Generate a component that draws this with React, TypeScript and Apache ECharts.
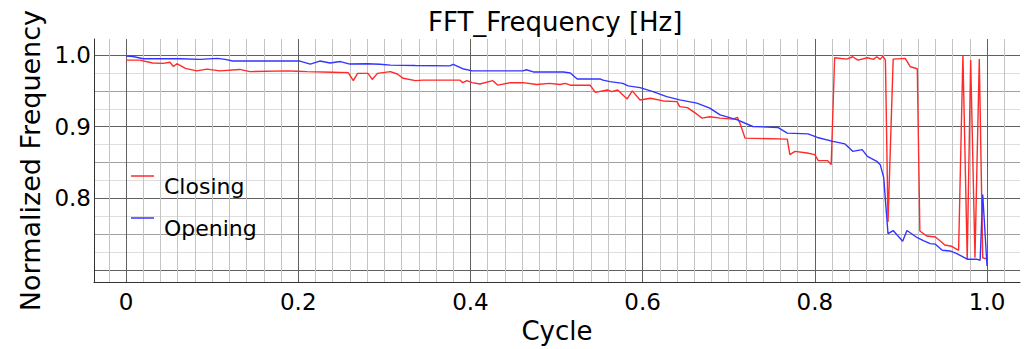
import React, { useEffect, useRef } from "react";
import * as echarts from "echarts";

const closingX = [
  0.0, 0.016, 0.031, 0.043, 0.051, 0.055, 0.059, 0.069, 0.082, 0.094, 0.109, 0.132, 0.144, 0.187, 0.199,
  0.21, 0.24, 0.258, 0.264, 0.269, 0.281, 0.286, 0.292, 0.307, 0.315, 0.322, 0.336, 0.345, 0.388, 0.391,
  0.396, 0.402, 0.411, 0.426, 0.432, 0.446, 0.461, 0.477, 0.492, 0.504, 0.51, 0.516, 0.539, 0.545, 0.559,
  0.564, 0.571, 0.582, 0.588, 0.597, 0.609, 0.624, 0.64, 0.643, 0.652, 0.663, 0.669, 0.678, 0.69, 0.705,
  0.71, 0.713, 0.719, 0.768, 0.771, 0.777, 0.791, 0.8, 0.804, 0.815, 0.819, 0.823, 0.837, 0.844, 0.85,
  0.861, 0.868, 0.872, 0.876, 0.879, 0.882, 0.885, 0.891, 0.905, 0.911, 0.919, 0.922, 0.93, 0.94, 0.945,
  0.951, 0.959, 0.967, 0.972, 0.977, 0.981, 0.986, 0.991, 0.995, 1.0,
];
const closingY = [
  0.993, 0.993, 0.989, 0.9885, 0.99, 0.984, 0.988, 0.9815, 0.978, 0.9805, 0.978, 0.98, 0.977, 0.978, 0.9775,
  0.977, 0.976, 0.9755, 0.9643, 0.9745, 0.9745, 0.966, 0.9745, 0.977, 0.9736, 0.9676, 0.9643, 0.965, 0.965, 0.9615,
  0.9643, 0.9615, 0.9597, 0.9643, 0.958, 0.9615, 0.9615, 0.959, 0.9606, 0.959, 0.9606, 0.958, 0.958, 0.948, 0.9513,
  0.949, 0.9513, 0.9388, 0.95, 0.9374, 0.9397, 0.936, 0.935, 0.928, 0.9267, 0.9175, 0.912, 0.914, 0.912, 0.9106,
  0.913, 0.905, 0.884, 0.8827, 0.861, 0.8656, 0.8633, 0.861, 0.8526, 0.8526, 0.847, 0.9963, 0.9944, 0.9977, 0.993,
  0.9963, 0.994, 0.9977, 0.994, 0.9986, 0.993, 0.767, 0.9944, 0.9954, 0.9837, 0.981, 0.7543, 0.7473, 0.746, 0.741,
  0.7348, 0.733, 0.7274, 1.0, 0.715, 0.993, 0.717, 0.9944, 0.717, 0.715,
];

const openingX = [
  0.0, 0.008, 0.02, 0.063, 0.086, 0.106, 0.115, 0.124, 0.202, 0.214, 0.225, 0.237, 0.249, 0.26, 0.28,
  0.295, 0.307, 0.336, 0.376, 0.38, 0.391, 0.402, 0.461, 0.465, 0.473, 0.508, 0.516, 0.524, 0.551, 0.554,
  0.562, 0.577, 0.583, 0.597, 0.612, 0.628, 0.643, 0.663, 0.678, 0.69, 0.71, 0.728, 0.757, 0.768, 0.792,
  0.803, 0.821, 0.835, 0.844, 0.855, 0.861, 0.872, 0.876, 0.88, 0.885, 0.891, 0.902, 0.907, 0.919, 0.926,
  0.934, 0.94, 0.948, 0.957, 0.965, 0.977, 0.988, 0.992, 0.995, 1.0,
];
const openingY = [
  0.9986, 0.998, 0.995, 0.995, 0.994, 0.9955, 0.994, 0.9917, 0.9917, 0.9875, 0.9917, 0.989, 0.991, 0.9875, 0.988,
  0.9873, 0.986, 0.9855, 0.985, 0.987, 0.981, 0.978, 0.978, 0.9795, 0.9765, 0.9765, 0.975, 0.9666, 0.9666, 0.965,
  0.963, 0.9606, 0.957, 0.9546, 0.949, 0.942, 0.9374, 0.933, 0.926, 0.9166, 0.9096, 0.9003, 0.899, 0.891, 0.89,
  0.885, 0.8795, 0.876, 0.8656, 0.868, 0.8586, 0.8516, 0.847, 0.829, 0.7506, 0.755, 0.74, 0.755, 0.745, 0.741,
  0.7367, 0.736, 0.7274, 0.7265, 0.7228, 0.715, 0.715, 0.7135, 0.8053, 0.7056,
];

const xTickLabels = [0, 0.2, 0.4, 0.6, 0.8, 1.0];
const yTickLabels = [0.8, 0.9, 1.0];

const X_MIN = -0.0372;
const X_MAX = 1.0383;
const Y_MIN = 0.683;
const Y_MAX = 1.0225;

const RED = "#ff2a2a";
const BLUE = "#3434ff";

export default function App() {
  const ref = useRef<HTMLDivElement>(null);
  useEffect(() => {
    const chart = echarts.init(ref.current!, null, { renderer: "svg" });
    const font = "DejaVu Sans";
    const hidden = { show: false };
    chart.setOption({
      animation: false,
      backgroundColor: "#ffffff",
      title: {
        text: "FFT_Frequency [Hz]",
        left: 428,
        top: 9,
        padding: 0,
        textStyle: { fontFamily: font, fontSize: 26, fontWeight: "normal", color: "#000" },
      },
      legend: {
        orient: "vertical",
        left: 131,
        top: 155,
        icon: "rect",
        itemWidth: 23,
        itemHeight: 1.5,
        itemGap: 0,
        padding: 0,
        formatter: (name: string) => `{s| }\n{t|${name}}`,
        textStyle: {
          fontFamily: font,
          fontSize: 22,
          color: "#000",
          rich: {
            s: { fontFamily: font, fontSize: 10, height: 20, lineHeight: 20 },
            t: { fontFamily: font, fontSize: 22, color: "#000", height: 22, lineHeight: 22, padding: [0, 0, 0, 5] },
          },
        },
        data: [
          { name: "Closing", itemStyle: { color: RED } },
          { name: "Opening", itemStyle: { color: BLUE } },
        ],
      },
      grid: { left: 94, right: 5, top: 39, bottom: 66, containLabel: false },
      xAxis: [
        {
          type: "value",
          min: X_MIN,
          max: X_MAX,
          minInterval: 0.2,
          maxInterval: 0.2,
          name: "Cycle",
          nameLocation: "middle",
          nameGap: 29,
          nameTextStyle: { fontFamily: font, fontSize: 26, color: "#000" },
          axisLine: { show: true, onZero: false, lineStyle: { color: "#333", width: 1 } },
          axisTick: hidden,
          axisLabel: {
            show: true,
            showMinLabel: false,
            showMaxLabel: false,
            margin: 8,
            fontFamily: font,
            fontSize: 23,
            color: "#000",
            formatter: (v: number) => {
              const t = xTickLabels.find((a) => Math.abs(a - v) < 1e-6);
              if (t === undefined) return "";
              return t === 0 ? "0" : t.toFixed(1);
            },
          },
          splitLine: { show: true, showMinLine: false, showMaxLine: false, lineStyle: { color: "#606060", width: 1 } },
          minorTick: { show: false, splitNumber: 10 },
          minorSplitLine: { show: true, lineStyle: { color: "#c4c4c4", width: 1 } },
        },
      ],
      yAxis: [
        {
          type: "value",
          min: Y_MIN,
          max: Y_MAX,
          minInterval: 0.1,
          maxInterval: 0.1,
          name: "Normalized Frequency",
          nameLocation: "middle",
          nameGap: 50,
          nameTextStyle: { fontFamily: font, fontSize: 27, color: "#000" },
          axisLine: { show: true, onZero: false, lineStyle: { color: "#333", width: 1 } },
          axisTick: hidden,
          axisLabel: {
            show: true,
            showMinLabel: false,
            showMaxLabel: false,
            margin: 3,
            fontFamily: font,
            fontSize: 23,
            color: "#000",
            formatter: (v: number) => {
              const t = yTickLabels.find((a) => Math.abs(a - v) < 1e-6);
              return t === undefined ? "" : t.toFixed(1);
            },
          },
          splitLine: { show: true, showMinLine: false, showMaxLine: false, lineStyle: { color: "#606060", width: 1 } },
          minorTick: { show: false, splitNumber: 2 },
          minorSplitLine: { show: true, lineStyle: { color: "#a0a0a0", width: 1 } },
        },
        {
          type: "value",
          min: Y_MIN,
          max: Y_MAX,
          minInterval: 0.05,
          maxInterval: 0.05,
          position: "left",
          axisLine: hidden,
          axisTick: hidden,
          axisLabel: hidden,
          splitLine: hidden,
          minorTick: { show: false, splitNumber: 2 },
          minorSplitLine: { show: true, lineStyle: { color: "#dedede", width: 1 } },
        },
      ],
      series: [
        {
          name: "Closing",
          type: "line",
          symbol: "none",
          xAxisIndex: 0,
          yAxisIndex: 0,
          lineStyle: { color: RED, width: 1.4 },
          itemStyle: { color: RED },
          data: closingX.map((x, i) => [x, closingY[i]]),
        },
        {
          name: "Opening",
          type: "line",
          symbol: "none",
          xAxisIndex: 0,
          yAxisIndex: 0,
          lineStyle: { color: BLUE, width: 1.4 },
          itemStyle: { color: BLUE },
          data: openingX.map((x, i) => [x, openingY[i]]),
        },
      ],
    });
    return () => chart.dispose();
  }, []);
  return <div ref={ref} style={{ position: "fixed", left: 0, top: 0, width: 1025, height: 349 }} />;
}
